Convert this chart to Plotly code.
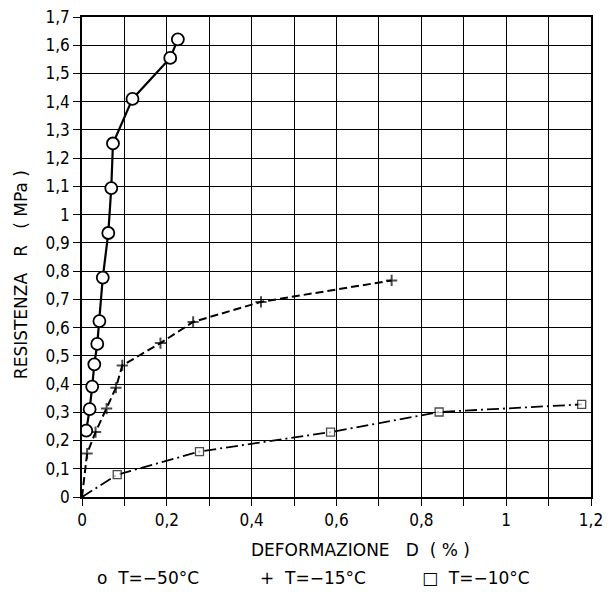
import plotly.graph_objects as go

# T = -50 °C
d50 = [0.010, 0.018, 0.024, 0.029, 0.036, 0.041, 0.049, 0.062, 0.069, 0.073, 0.119, 0.208, 0.226]
r50 = [0.235, 0.311, 0.391, 0.470, 0.542, 0.623, 0.777, 0.935, 1.094, 1.252, 1.410, 1.555, 1.621]

# T = -15 °C
d15 = [0.0, 0.012, 0.032, 0.058, 0.080, 0.095, 0.185, 0.262, 0.422, 0.730]
r15 = [0.0, 0.154, 0.230, 0.313, 0.387, 0.466, 0.545, 0.620, 0.691, 0.767]

# T = -10 °C
d10 = [0.0, 0.083, 0.277, 0.586, 0.842, 1.178]
r10 = [0.0, 0.079, 0.161, 0.230, 0.301, 0.328]

legend_labels = ["o  T=−50°C", "+  T=−15°C", "□  T=−10°C"]
x_title = "DEFORMAZIONE   D  ( % )"
y_title = "RESISTENZA   R   ( MPa )"

FONT = "DejaVu Sans Condensed"
FONT_T = "DejaVu Sans"

fig = go.Figure()

fig.add_trace(go.Scatter(
    x=d10, y=r10, mode="lines+markers",
    line=dict(color="black", width=1.8, dash="12px,4px,2px,4px"),
    marker=dict(symbol="square", size=[0] + [8] * (len(d10) - 1), color="white",
                line=dict(color="black", width=1.3)),
    showlegend=False,
))

fig.add_trace(go.Scatter(
    x=d15, y=r15, mode="lines+markers",
    line=dict(color="black", width=2, dash="8px,4px"),
    marker=dict(symbol="cross-thin", size=[0] + [8] * (len(d15) - 1), color="black",
                line=dict(color="black", width=2)),
    showlegend=False,
))

fig.add_trace(go.Scatter(
    x=d50, y=r50, mode="lines+markers",
    line=dict(color="black", width=2.2),
    marker=dict(symbol="circle", size=12, color="white",
                line=dict(color="black", width=1.8)),
    showlegend=False,
))

axis_common = dict(
    showgrid=True, gridcolor="black", gridwidth=1.4,
    showline=True, linecolor="black", linewidth=1.6, mirror=True,
    ticks="outside", ticklen=7, tickwidth=1.4, tickcolor="black",
    zeroline=False, automargin=False,
    ticklabeloverflow="allow",
    tickfont=dict(family=FONT, size=17, color="black"),
)

fig.update_xaxes(range=[0, 1.2], dtick=0.2, tick0=0,
                 minor=dict(dtick=0.1, showgrid=True, gridcolor="black", gridwidth=1.4,
                            ticks="outside", ticklen=7, tickcolor="black"),
                 **axis_common)
fig.update_yaxes(range=[0, 1.7], dtick=0.1, tick0=0, **axis_common)

annotations = [
    dict(text=x_title, x=0.548, y=-0.111, xref="paper", yref="paper",
         xanchor="center", yanchor="middle",
         showarrow=False, font=dict(family=FONT_T, size=17, color="black")),
    dict(text=y_title, x=-0.121, y=0.463, xref="paper", yref="paper", textangle=-90,
         xanchor="center", yanchor="middle",
         showarrow=False, font=dict(family=FONT_T, size=17, color="black")),
]
for lbl, xp in zip(legend_labels, [0.130, 0.454, 0.774]):
    annotations.append(dict(text=lbl, x=xp, y=-0.169, xref="paper", yref="paper",
                            xanchor="center", yanchor="middle",
                            showarrow=False, font=dict(family=FONT_T, size=17, color="black")))

fig.update_layout(
    width=605, height=584,
    margin=dict(l=73.5, r=21.5, t=8.7, b=95.3),
    plot_bgcolor="white", paper_bgcolor="white",
    separators=", ",
    annotations=annotations,
    font=dict(family=FONT, color="black"),
)

fig.write_html("out.html")
